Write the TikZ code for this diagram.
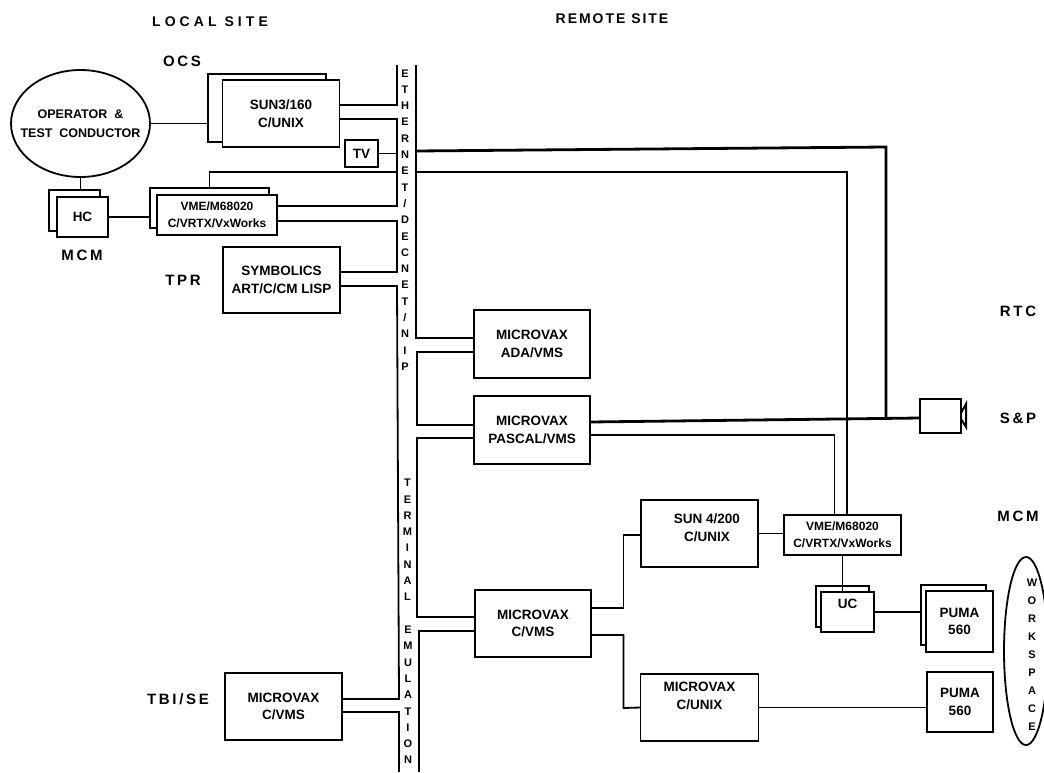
\documentclass[tikz,border=0pt]{standalone}
\usepackage{fontspec}
\setmainfont{Liberation Sans}
\newfontfamily\sitefont[LetterSpace=18]{Liberation Sans}
\newfontfamily\headfont[LetterSpace=14]{Liberation Sans}
\newfontfamily\localfont[LetterSpace=29]{Liberation Sans}
\usetikzlibrary{shapes.geometric,calc,positioning}

\begin{document}
\begin{tikzpicture}[
    x=1pt, y=-1pt,
    font=\fontsize{13.5}{17.5}\selectfont\bfseries,
    box/.style={draw, line width=1.8pt, fill=white, align=center, inner sep=0pt, outer sep=0pt},
    vaxbox/.style={box, minimum width=116pt, minimum height=67pt},
    vmebox/.style={box, minimum width=119pt, minimum height=40pt, font=\fontsize{12}{17}\selectfont\bfseries},
    site/.style={font=\fontsize{15}{16}\sitefont\bfseries},
    head/.style={font=\fontsize{14}{16}\headfont\bfseries},
    letters/.style={align=center, inner sep=0pt, font=\fontsize{11}{16.3}\selectfont\bfseries},
    wire/.style={line width=1.8pt},
    heavy/.style={line width=2.8pt}
]
\useasboundingbox (0,0) rectangle (1044,772);

% site labels
\node[head, font=\fontsize{14}{16}\localfont\bfseries] (local) at (210,22) {LOCAL SITE};
\node[head] (remote) at (612,19) {REMOTE SITE};
\node[site] (ocs) at (182,61) {OCS};
\node[site] (mcml) at (82,255) {MCM};
\node[site] (tpr) at (183,280) {TPR};
\node[site] (tbi) at (178,699) {TBI/SE};
\node[site] (rtc) at (1018,311) {RTC};
\node[site] (sp) at (1018,418) {S\&P};
\node[site] (mcmr) at (1018,516) {MCM};

% local site
\node[draw, ellipse, line width=1.8pt, minimum width=139pt, minimum height=107pt, inner sep=0pt, outer sep=0pt] (oper) at (80.5,123.5) {};
\node[align=center, inner sep=0pt, font=\fontsize{12.5}{19}\selectfont\bfseries] (opertext) at (oper) {OPERATOR\ \ \&\\TEST\ \ CONDUCTOR};
\node[box, minimum width=118pt, minimum height=68pt] (sunback) at (267,108) {};
\node[box, minimum width=117pt, minimum height=67pt, right=-103.5pt of sunback, yshift=-5.5pt] (sun) {SUN3/160\\C/UNIX};
\node[box, minimum width=33pt, minimum height=27pt] (tv) at (361.5,153.5) {TV};
\node[box, minimum width=51pt, minimum height=41pt] (hcback) at (74.5,210.5) {};
\node[box, minimum width=51pt, minimum height=40pt] (hc) at (82.5,217) {HC};
\node[vmebox] (vmeback) at (209.5,208) {};
\node[vmebox, minimum width=120pt] (vme) at (217,215) {VME/M68020\\C/VRTX/VxWorks};
\node[box, minimum width=117pt, minimum height=66pt] (symb) at (281.5,280) {SYMBOLICS\\ART/C/CM LISP};
\node[box, minimum width=117pt, minimum height=67pt] (tbivax) at (283.5,706.5) {MICROVAX\\C/VMS};

% remote site
\node[vaxbox, minimum height=68pt] (ada) at (532,344) {MICROVAX\\ADA/VMS};
\node[vaxbox, minimum height=68pt, below=18pt of ada] (pascal) {MICROVAX\\PASCAL/VMS};
\node[vaxbox, below=126pt of pascal, xshift=1pt] (cvms) {MICROVAX\\C/VMS};
\node[vaxbox, minimum width=117pt] (sunf) at (699.5,533.5) {\hspace*{15pt}SUN 4/200\\\hspace*{15pt}C/UNIX\\[-6pt]~};
\node[vaxbox, minimum width=118pt, below=107pt of sunf] (cunix) {MICROVAX\\C/UNIX\\[6pt]~};
\node[vmebox, minimum width=117pt, right=26pt of sunf, yshift=-1.5pt] (vmer) {VME/M68020\\C/VRTX/VxWorks};
\node[box, minimum width=53pt, minimum height=41pt] (ucback) at (842.5,606.5) {};
\node[box, minimum width=53pt, minimum height=40pt] (uc) at (847.5,612) {UC\\[-2pt]~};
\node[box, minimum width=65pt, minimum height=60pt] (pumaback) at (953.5,615) {};
\node[box, minimum width=67pt, minimum height=61pt] (puma) at (959.5,621.5) {PUMA\\560};
\node[box, minimum width=66pt, minimum height=60pt] (pumab) at (960,702) {PUMA\\560};
\node[box, minimum width=41pt, minimum height=34pt] (speaker) at (940.5,416) {};
\node[draw, ellipse, line width=1.8pt, minimum width=44pt, minimum height=188pt] (work) at (1026,651) {};

% letters on the lines
\node[letters] (ethernet) at (405,220) {E\\T\\H\\E\\R\\N\\E\\T\\/\\D\\E\\C\\N\\E\\T\\/\\N\\I\\P};
\node[letters] (terminal) at (407.5,540) {T\\E\\R\\M\\I\\N\\A\\L};
\node[letters] (emulation) at (408,695) {E\\M\\U\\L\\A\\T\\I\\O\\N};
\node[letters, font=\fontsize{11}{18}\selectfont\bfseries] (space) at (1032,655) {W\\O\\R\\K\\S\\P\\A\\C\\E};

% free ends
\coordinate (ltop) at (397,65);
\coordinate (rtop) at (416,65);
\coordinate (lbot) at (399,772);
\coordinate (rbot) at (419,772);
\coordinate (tvj) at (397,152);
\coordinate (vmej) at (397,172);
\coordinate (tva) at (416,151);
\coordinate (tvb) at (416,172);
\coordinate (bend) at (886,147);
\coordinate (join) at (886,418);
\coordinate (forka) at (623.5,535);
\coordinate (forkb) at (623.5,708);

% left line
\draw[wire] (ltop) |- ([yshift=8.5pt]sun.east);
\draw[wire] ([yshift=-5.5pt]sun.east) -| (397,206) -- ([yshift=9pt]vme.east);
\draw[wire] (tv.east) -- (tv.east -| tvj);
\draw[wire] (vmeback.north) |- (vmej);
\draw[wire] ([yshift=-6pt]vme.east) -| (397,272) -- ([yshift=8pt]symb.east);
\draw[wire] ([yshift=-6pt]symb.east) -- (397,286) -- (399,699) -- ([yshift=7.5pt]tbivax.east);
\draw[wire] ([yshift=-5.5pt]tbivax.east) -- (399,712) -- (lbot);

% right line
\draw[wire] (rtop) -- (416,338) -- ([yshift=6pt]ada.west);
\draw[wire] ([yshift=-8pt]ada.west) -- (417,352) -- (417,425) -- ([yshift=5pt]pascal.west);
\draw[wire] ([yshift=-8pt]pascal.west) -- (417,438) -- (417,617) -- ([yshift=6.5pt]cvms.west);
\draw[wire] ([yshift=-7.5pt]cvms.west) -- (419,631) -- (rbot);
\draw[heavy] (tva) -- (bend) -- (join);
\draw[wire] (tvb) -| ([xshift=4.5pt]vmer.north);
\draw[heavy] ([yshift=8pt]pascal.east) -- ([yshift=-2pt]speaker.west);
\draw[wire] ([yshift=-5pt]pascal.east) -| ([xshift=-8pt]vmer.north);

% between the boxes
\draw[wire] (oper.east) -- (oper.east -| sunback.west);
\draw[wire] (oper.south) -- (oper.south |- hcback.north);
\draw[wire] (hc.east) -- (hc.east -| vmeback.west);
\draw[wire] ([yshift=15.5pt]cvms.east) -| (forka) -- ([yshift=-1.5pt]sunf.west);
\draw[wire] ([yshift=-11.5pt]cvms.east) -| (forkb) -- (cunix.west);
\draw[wire] (sunf.east) -- (sunf.east -| vmer.west);
\draw[wire] (vmer.south) -- (vmer.south |- uc.north);
\draw[wire] (uc.east) -- (uc.east -| pumaback.west);
\draw[wire] (cunix.east) -- (cunix.east -| pumab.west);
\draw[line width=2pt] ([yshift=3pt]speaker.east) -- ++(5,-9) -- ++(0,23) -- ++(-5,-8);
\end{tikzpicture}
\end{document}
